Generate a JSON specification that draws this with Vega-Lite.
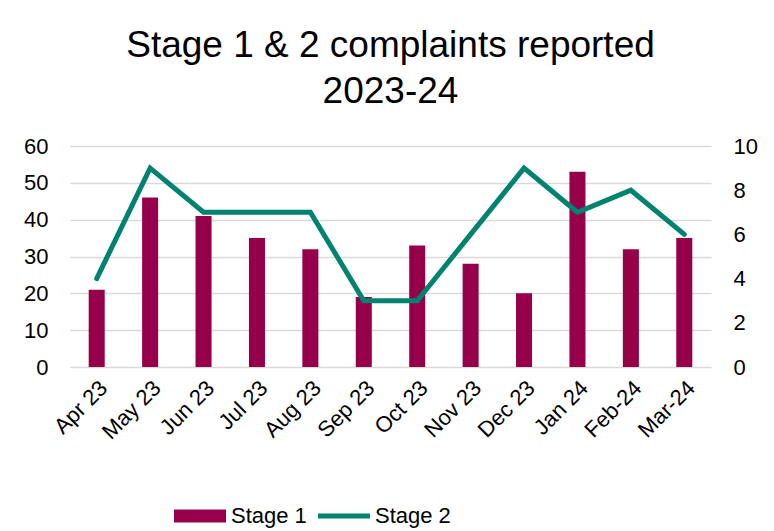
{
  "$schema": "https://vega.github.io/schema/vega-lite/v6.json",
  "autosize": {"type": "none"},
  "width": 641,
  "height": 221,
  "padding": {"left": 70, "top": 146, "right": 63, "bottom": 164},
  "background": "white",
  "title": {
    "text": ["Stage 1 & 2 complaints reported", "2023-24"],
    "font": "Liberation Sans",
    "fontSize": 37,
    "fontWeight": "normal",
    "color": "#000000",
    "lineHeight": 46,
    "anchor": "middle",
    "offset": 24
  },
  "config": {
    "view": {"stroke": null},
    "axis": {
      "labelFont": "Liberation Sans",
      "labelColor": "#000000",
      "labelFontSize": 22,
      "ticks": false,
      "domain": false,
      "title": null
    }
  },
  "data": {
    "values": [
      {"month": "Apr 23", "stage1": 21, "stage2": 4},
      {"month": "May 23", "stage1": 46, "stage2": 9},
      {"month": "Jun 23", "stage1": 41, "stage2": 7},
      {"month": "Jul 23", "stage1": 35, "stage2": 7},
      {"month": "Aug 23", "stage1": 32, "stage2": 7},
      {"month": "Sep 23", "stage1": 19, "stage2": 3},
      {"month": "Oct 23", "stage1": 33, "stage2": 3},
      {"month": "Nov 23", "stage1": 28, "stage2": 6},
      {"month": "Dec 23", "stage1": 20, "stage2": 9},
      {"month": "Jan 24", "stage1": 53, "stage2": 7},
      {"month": "Feb-24", "stage1": 32, "stage2": 8},
      {"month": "Mar-24", "stage1": 35, "stage2": 6}
    ]
  },
  "encoding": {
    "x": {
      "field": "month",
      "type": "ordinal",
      "sort": null,
      "scale": {"paddingInner": 0.7, "paddingOuter": 0.35},
      "axis": {"labelAngle": -45, "labelFontSize": 22, "labelPadding": 10, "grid": false}
    }
  },
  "layer": [
    {
      "mark": {"type": "bar", "color": "#96004A"},
      "encoding": {
        "y": {
          "field": "stage1",
          "type": "quantitative",
          "scale": {"domain": [0, 60]},
          "axis": {"orient": "left", "values": [0, 10, 20, 30, 40, 50, 60], "grid": true, "gridColor": "#d9d9d9", "gridWidth": 1.5, "labelPadding": 22}
        },
        "color": {
          "datum": "Stage 1",
          "type": "nominal",
          "scale": {"domain": ["Stage 1", "Stage 2"], "range": ["#96004A", "#008270"]},
          "legend": {
            "title": null,
            "orient": "none",
            "legendX": 104,
            "legendY": 344,
            "direction": "horizontal",
            "symbolSize": 2704,
            "labelFont": "Liberation Sans",
            "labelFontSize": 22,
            "labelColor": "#000000",
            "labelOffset": 5,
            "columnPadding": 11,
            "symbolStrokeWidth": 0,
            "encode": {
              "symbols": {
                "update": {
                  "shape": {"signal": "datum.value == 'Stage 1' ? 'M-1,-0.25H1V0.25H-1Z' : 'M-1,-0.1H1V0.1H-1Z'"},
                  "fill": {"signal": "datum.value == 'Stage 1' ? '#96004A' : '#008270'"},
                  "strokeWidth": {"value": 0},
                  "opacity": {"value": 1}
                }
              }
            }
          }
        }
      }
    },
    {
      "mark": {"type": "line", "color": "#008270", "strokeWidth": 5, "strokeCap": "round", "strokeJoin": "miter"},
      "encoding": {
        "y": {
          "field": "stage2",
          "type": "quantitative",
          "scale": {"domain": [0, 10]},
          "axis": {"orient": "right", "values": [0, 2, 4, 6, 8, 10], "grid": false, "labelPadding": 22}
        },
        "color": {"datum": "Stage 2", "type": "nominal"}
      }
    }
  ],
  "resolve": {"scale": {"y": "independent"}}
}
